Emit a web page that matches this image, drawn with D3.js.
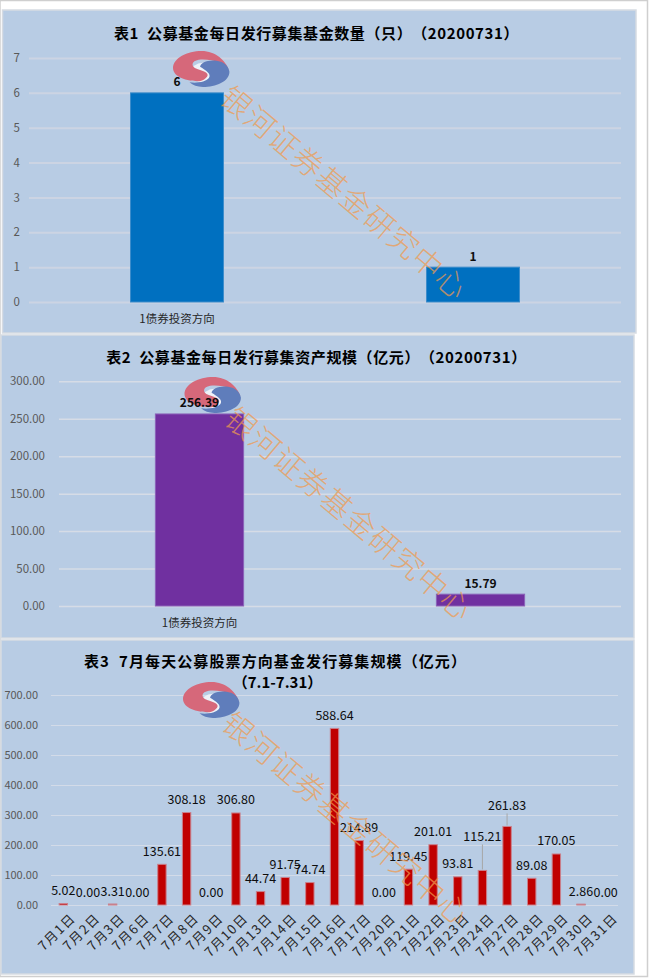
<!DOCTYPE html>
<html><head><meta charset="utf-8">
<script src="https://cdn.jsdelivr.net/npm/d3@7/dist/d3.min.js"></script>
<style>
html,body{margin:0;padding:0;background:#fff}
svg{display:block}
text{font-family:"Noto Sans CJK SC","Noto Sans",sans-serif;font-kerning:none;font-feature-settings:"palt" 0,"kern" 0;text-spacing-trim:space-all}
</style></head><body><div id="c"></div>
<script>
const title1 = "表1  公募基金每日发行募集基金数量（只）（20200731）";
const title2 = "表2  公募基金每日发行募集资产规模（亿元）（20200731）";
const title3a = "表3  7月每天公募股票方向基金发行募集规模（亿元）";
const title3b = "（7.1-7.31）";
const watermark = "银河证券基金研究中心";

const cats1 = ["1债券投资方向", " "];
const vals1 = [6, 1];
const ticks1 = [0,1,2,3,4,5,6,7];

const cats2 = ["1债券投资方向", " "];
const vals2 = [256.39, 15.79];
const ticks2 = [0,50,100,150,200,250,300];

const cats3 = ["7月1日","7月2日","7月3日","7月6日","7月7日","7月8日","7月9日","7月10日","7月13日","7月14日","7月15日","7月16日","7月17日","7月20日","7月21日","7月22日","7月23日","7月24日","7月27日","7月28日","7月29日","7月30日","7月31日"];
const vals3 = [5.02,0,3.31,0,135.61,308.18,0,306.80,44.74,91.75,74.74,588.64,214.89,0,119.45,201.01,93.81,115.21,261.83,89.08,170.05,2.86,0];
const ticks3 = [0,100,200,300,400,500,600,700];
// labels pulled away from their bars, with a leader line, in the reference
const leaderLift = {"7月24日":35, "7月27日":22};

const W=649,H=979;
const svg=d3.select("#c").append("svg").attr("width",W).attr("height",H);
svg.append("rect").attr("width",W).attr("height",H).attr("fill","#fff");
svg.append("rect").attr("x",0).attr("y",0.5).attr("width",647.5).attr("height",976).attr("fill","none").attr("stroke","#cfcfcf").attr("stroke-width",1.5);

function panel(x0,y0,x1,y1){
  svg.append("rect").attr("x",x0).attr("y",y0).attr("width",x1-x0).attr("height",y1-y0)
    .attr("fill","#b8cce4").attr("stroke","#d6dbe2").attr("stroke-width",1.5);
}
function logo(parent,cx,cy){
  const g=parent.append("g").attr("transform",`translate(${cx},${cy}) scale(28.5,18)`);
  g.append("ellipse").attr("cx",.05).attr("cy",.2).attr("rx",.42).attr("ry",.55).attr("fill","#eef2f8");
  g.append("path").attr("fill","#d6687a")
   .attr("d","M.96,.05 C.7,-.35 .4,-.58 -.1,-.52 C-.35,-.45 -.4,-.15 -.15,0 C.05,.12 .28,.2 .2,.42 C.15,.55 .05,.63 -.06,.68 C-.65,.7 -1,.35 -1,-.05 C-1,-.6 -.5,-1 0,-1 C.5,-1 .85,-.45 .96,.05 Z");
  g.append("path").attr("fill","#5f7dbb")
   .attr("d","M.98,.15 C.98,.7 .5,1 .05,1 C-.15,1 -.3,.9 -.42,.74 C-.15,.8 .15,.72 .26,.5 C.36,.28 .15,.08 -.05,-.12 C-.02,-.38 .3,-.58 .68,-.4 C.85,-.3 .95,-.1 .98,.15 Z");
}
function chart(o){
  const g=svg.append("g");
  const x=d3.scaleBand().domain(o.cats).range([o.x0,o.x1]).paddingInner(o.pad).paddingOuter(o.pad/2);
  const y=d3.scaleLinear().domain(o.dom).range([o.y0,o.y1]);
  const ya=g.append("g").attr("transform",`translate(${o.x0},0)`)
    .call(d3.axisLeft(y).tickValues(o.ticks).tickSize(-(o.x1-o.x0)).tickPadding(o.tp).tickFormat(o.fmt));
  ya.select(".domain").remove();
  ya.selectAll("line").attr("stroke",o.grid).attr("stroke-width",o.gw);
  ya.selectAll("text").attr("fill","#595959").style("font-size",o.tf+"px");
  logo(g,o.logo[0],o.logo[1]);
  g.selectAll("rect.bar").data(o.vals).join("rect").attr("class","bar")
    .attr("x",(d,i)=>x(o.cats[i])).attr("width",x.bandwidth())
    .attr("y",d=>y(d)).attr("height",d=>y(0)-y(d))
    .attr("fill",o.color).attr("stroke",o.stroke).attr("stroke-width",1);
  const xa=g.append("g").attr("transform",`translate(0,${o.y0})`)
    .call(d3.axisBottom(x).tickSize(0).tickPadding(o.xp));
  xa.select(".domain").remove();
  xa.selectAll("text").attr("fill","#262626").style("font-size",o.xf+"px");
  if(o.rot) xa.selectAll("text").attr("text-anchor","end").attr("dy","0.35em")
      .style("letter-spacing","1.4px").attr("transform","translate(2,3) rotate(-45)");
  g.selectAll("text.lab").data(o.vals).join("text").attr("class","lab")
    .attr("x",(d,i)=>x(o.cats[i])+x.bandwidth()/2)
    .attr("y",(d,i)=>y(d)-(o.lift[o.cats[i]]||o.base))
    .attr("text-anchor","middle").attr("dominant-baseline","central")
    .attr("fill","#0d0d0d").attr("font-weight",o.lb).style("font-size",o.lf+"px")
    .text(o.lfmt);
  Object.keys(o.lift).forEach(k=>{
    const i=o.cats.indexOf(k);
    g.append("line").attr("x1",x(k)+x.bandwidth()/2).attr("x2",x(k)+x.bandwidth()/2)
      .attr("y1",y(o.vals[i])-o.lift[k]+9).attr("y2",y(o.vals[i])-1)
      .attr("stroke","#a6a6a6").attr("stroke-width",1);
  });
}
function title(t,cx,cy,ls){
  svg.append("text").attr("x",cx).attr("y",cy).attr("text-anchor","middle").attr("dominant-baseline","central")
   .attr("font-weight","bold").attr("fill","#000").style("font-size","15px").style("letter-spacing",ls+"px").style("white-space","pre").text(t);
}
function mark(cx,cy){
  svg.append("text").attr("transform",`translate(${cx},${cy}) rotate(40)`)
    .attr("dominant-baseline","central").attr("fill","#f09a4e").attr("fill-opacity",.72)
    .style("font-size","30px").style("letter-spacing","1.2px").style("font-weight",300).text(watermark);
}

panel(2.5,10,636,333);
panel(1,335,634,638);
panel(1,640,634,974);

chart({cats:cats1,vals:vals1,ticks:ticks1,dom:[0,7],x0:29,x1:621,y0:302,y1:58,pad:.686,
  color:"#0070c0",stroke:"#3c8ccb",grid:"#ccd4e3",gw:2,tp:9,tf:11.5,fmt:d3.format("d"),
  xp:13,xf:11.5,base:12,lift:{},lf:12,lb:"bold",lfmt:d3.format("d"),logo:[201.5,69]});
chart({cats:cats2,vals:vals2,ticks:ticks2,dom:[0,300],x0:59,x1:621,y0:606,y1:381.3,pad:.686,
  color:"#7030a0",stroke:"#8a62b8",grid:"#d6dce6",gw:1.5,tp:14,tf:11.5,fmt:d3.format(".2f"),
  xp:13,xf:11.5,base:12,lift:{},lf:12,lb:"bold",lfmt:d3.format(".2f"),logo:[213,395]});
chart({cats:cats3,vals:vals3,ticks:ticks3,dom:[0,700],x0:51,x1:618,y0:905,y1:695,pad:.66,
  color:"#c00000",stroke:"#c9808c",grid:"#d3dbe8",gw:1,tp:13,tf:11,fmt:d3.format(".2f"),
  xp:11,xf:13,rot:true,base:14,lift:leaderLift,lf:12.5,lb:"normal",lfmt:d3.format(".2f"),logo:[211.5,700]});

title(title1,316.5,32,0.6);
title(title2,316.5,356.5,0.6);
title(title3a,275.5,660,1.1);
title(title3b,277.5,681,0);

mark(226,91);
mark(231,412);
mark(228,717);
</script></body></html>
